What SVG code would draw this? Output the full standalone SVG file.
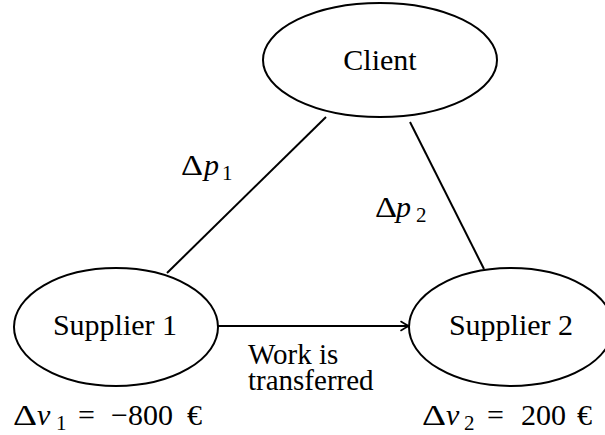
<svg xmlns="http://www.w3.org/2000/svg" width="605" height="435" viewBox="0 0 605 435">
<style>
.node { fill: #fff; stroke: #000; stroke-width: 2; }
.lbl { font-family: "Liberation Serif", "Times New Roman", serif; font-size: 30px; fill: #000; }
.edge { stroke: #000; stroke-width: 2; fill: none; }
.it { font-style: italic; }
.sub { font-size: 21px; }
.wrap { font-size: 29px; }
</style>
<defs>
<marker id="arr" markerUnits="userSpaceOnUse" markerWidth="14" markerHeight="12" viewBox="-10 -6 12 12" refX="0" refY="0" orient="auto">
<path d="M -8 -4.5 Q -3 -1.2 0 0 Q -3 1.2 -8 4.5" fill="none" stroke="#000" stroke-width="1.6" stroke-linecap="round"/>
</marker>
</defs>
<rect width="605" height="435" fill="#fff"/>
<g id="connectors">
<line class="edge" x1="326" y1="117" x2="167" y2="273"/>
<line class="edge" x1="410" y1="122" x2="484" y2="269"/>
<line class="edge" x1="218" y1="326" x2="409" y2="326" marker-end="url(#arr)"/>
</g>
<g id="client">
<ellipse class="node" cx="380" cy="60" rx="117" ry="57"/>
<text class="lbl" x="380" y="70" text-anchor="middle">Client</text>
</g>
<g id="supplier1">
<ellipse class="node" cx="116" cy="327" rx="102" ry="59"/>
<text class="lbl" x="115" y="335" text-anchor="middle">Supplier 1</text>
</g>
<g id="supplier2">
<ellipse class="node" cx="511" cy="327" rx="102" ry="59"/>
<text class="lbl" x="511" y="335" text-anchor="middle">Supplier 2</text>
</g>
<g id="labels">
<text class="lbl wrap" x="248" y="364">Work is<tspan x="248" y="390">transferred</tspan></text>
<text class="lbl" x="181" y="175"><tspan textLength="22" lengthAdjust="spacingAndGlyphs">Δ</tspan><tspan class="it" x="204">p</tspan><tspan class="sub" x="222" dy="5">1</tspan></text>
<text class="lbl" x="375" y="217"><tspan textLength="22" lengthAdjust="spacingAndGlyphs">Δ</tspan><tspan class="it" x="396">p</tspan><tspan class="sub" x="416" dy="5">2</tspan></text>
<text class="lbl" x="13" y="425"><tspan textLength="24" lengthAdjust="spacingAndGlyphs">Δ</tspan><tspan class="it" x="37">v</tspan><tspan class="sub" x="56" dy="5">1</tspan><tspan x="78" dy="-5">=</tspan><tspan x="111">−800</tspan><tspan x="187">€</tspan></text>
<text class="lbl" x="422" y="425"><tspan textLength="24" lengthAdjust="spacingAndGlyphs">Δ</tspan><tspan class="it" x="446">v</tspan><tspan class="sub" x="464" dy="5">2</tspan><tspan x="487" dy="-5">=</tspan><tspan x="521">200</tspan><tspan x="577">€</tspan></text>
</g>
</svg>
